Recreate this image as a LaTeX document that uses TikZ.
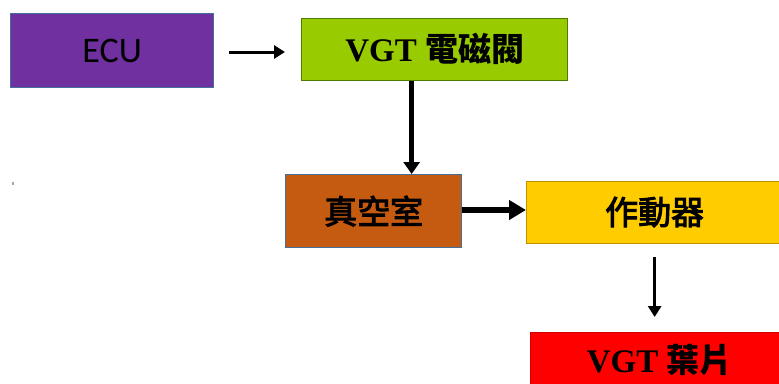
\documentclass[tikz,border=0pt]{standalone}
\usepackage{fontspec}
\setmainfont{Liberation Serif}
\newfontfamily\cjk{Noto Sans CJK TC}
\newfontfamily\cjkm{Noto Sans CJK TC}[FakeBold=3]
\newfontfamily\carl{Carlito}
\usetikzlibrary{calc,arrows.meta}
\definecolor{ecufill}{HTML}{7030A0}
\definecolor{blueedge}{HTML}{41719C}
\definecolor{vgtfill}{HTML}{99CC00}
\definecolor{vgtedge}{HTML}{4F7A00}
\definecolor{vacfill}{HTML}{C55A11}
\definecolor{actfill}{HTML}{FFCC00}
\definecolor{actedge}{HTML}{BF9000}
\definecolor{bladefill}{HTML}{FF0000}
\definecolor{bladeedge}{HTML}{D00000}
\tikzset{
  box/.style={draw, line width=1.3pt, inner sep=0pt, anchor=north west,
    font=\fontsize{33}{36}\selectfont},
  thinarrow/.style={line width=3pt, -{Triangle[length=11pt,width=13pt]}},
  midarrow/.style={line width=4.5pt, -{Triangle[length=12pt,width=16pt]}},
  thickarrow/.style={line width=6pt, -{Triangle[length=17pt,width=19pt]}}
}
\begin{document}
\begin{tikzpicture}[x=1pt,y=-1pt]
\useasboundingbox (0,0) rectangle (779,383);
\clip (0,0) rectangle (779,383);
\fill[white] (0,0) rectangle (779,383);
\node[box, fill=ecufill, draw=blueedge, minimum width=203pt, minimum height=74pt,
  font=\fontsize{36}{40}\selectfont] (ecu) at (10,13) {\carl ECU};
\node[box, fill=vgtfill, draw=vgtedge, minimum width=266pt, minimum height=62pt] (vgt) at (301,18) {\raisebox{5pt}{\bfseries VGT {\cjk 電磁閥}}};
\node[box, fill=vacfill, draw=blueedge, minimum width=176pt, minimum height=73pt] (vac) at (285,174) {\cjkm 真空室};
\node[box, fill=actfill, draw=actedge, minimum width=256pt, minimum height=62pt] (act) at (526,181) {\raisebox{4pt}{\cjkm 作動器}};
\node[box, fill=bladefill, draw=bladeedge, minimum width=258pt, minimum height=54pt] (blade) at (530,332) {\bfseries VGT {\cjk 葉片}};
\fill[gray!70] (12,182) rectangle (14,185);
\draw[thinarrow, shorten <=15pt, shorten >=16pt] (ecu.east |- 0,52) coordinate (a1) -- (a1 -| vgt.west);
\draw[midarrow] ($(vgt.south)+(-23,0)$) -- ($(vac.north)+(38,0)$);
\draw[thickarrow] (vac.east |- 0,210) coordinate (a2) -- (a2 -| act.west);
\draw[thinarrow, shorten <=13pt, shorten >=15pt] (act.south) -- (blade.north -| act.south);
\end{tikzpicture}
\end{document}
